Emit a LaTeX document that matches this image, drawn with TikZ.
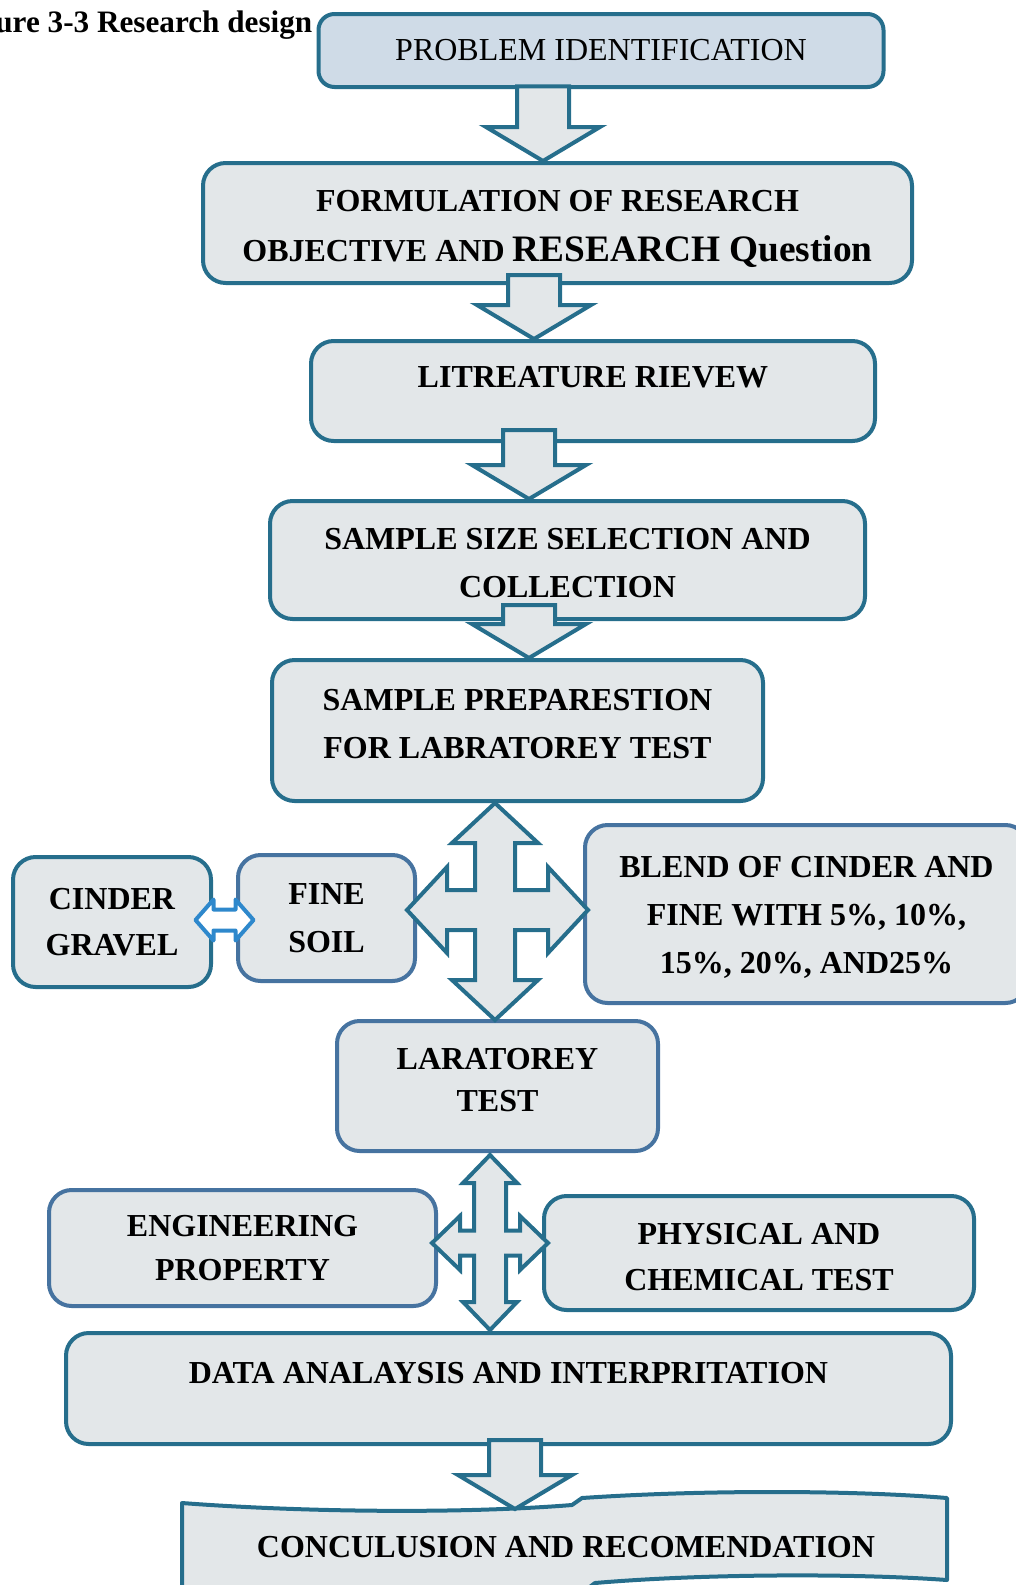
\documentclass[tikz,border=0pt]{standalone}
\usepackage{fontspec}
\setmainfont{Liberation Serif}
\usetikzlibrary{calc}

\definecolor{edgeteal}{HTML}{266E8C}
\definecolor{edgesteel}{HTML}{4673A0}
\definecolor{boxgrey}{HTML}{E3E7E9}
\definecolor{probfill}{HTML}{CFDBE7}
\definecolor{linkblue}{HTML}{2E88CC}

\tikzset{
  stepbox/.style={draw=edgeteal, line width=3pt, fill=boxgrey, rounded corners=17pt,
    align=center, inner sep=0pt, font=\fontsize{24}{36}\selectfont\bfseries},
  steelbox/.style={stepbox, draw=edgesteel},
  blockarrow/.style={draw=edgeteal, line width=3pt, fill=boxgrey, line join=miter},
  linkarrow/.style={draw=linkblue, line width=3pt, fill=white, line join=round},
  bannerline/.style={draw=edgeteal, line width=3pt, fill=boxgrey, line join=round}
}

% struts that nudge text down (top) or up (bottom) inside a box
\newcommand{\toppad}[1]{\rule{0pt}{#1}}
\newcommand{\botpad}[1]{\rule[-#1]{0pt}{0pt}}

% down block arrow: from anchor, to anchor, x (px), overlap into upper box
\newcommand{\blkdown}[4]{%
  \draw[blockarrow] let \p1=(#1), \p2=(#2) in
    ({#3*0.75pt-19.5pt},{\y1+#4}) -- ({#3*0.75pt+19.5pt},{\y1+#4})
    -- ({#3*0.75pt+19.5pt},{\y2+25.5pt}) -- ({#3*0.75pt+42.75pt},{\y2+25.5pt})
    -- ({#3*0.75pt},\y2) -- ({#3*0.75pt-42.75pt},{\y2+25.5pt})
    -- ({#3*0.75pt-19.5pt},{\y2+25.5pt}) -- cycle;}

% four way arrow: centre, up, down, left, right, vshaft, hshaft, head half, head length
\newcommand{\crossarrow}[9]{%
  \draw[blockarrow, shift={(#1)}] (0,{-#2}) -- ({#8},{-#2+#9}) -- ({#6},{-#2+#9})
    -- ({#6},{-#7}) -- ({#5-#9},{-#7}) -- ({#5-#9},{-#8}) -- ({#5},0)
    -- ({#5-#9},{#8}) -- ({#5-#9},{#7}) -- ({#6},{#7}) -- ({#6},{#3-#9})
    -- ({#8},{#3-#9}) -- (0,{#3}) -- ({-#8},{#3-#9}) -- ({-#6},{#3-#9})
    -- ({-#6},{#7}) -- ({-#4+#9},{#7}) -- ({-#4+#9},{#8}) -- ({-#4},0)
    -- ({-#4+#9},{-#8}) -- ({-#4+#9},{-#7}) -- ({-#6},{-#7})
    -- ({-#6},{-#2+#9}) -- ({-#8},{-#2+#9}) -- cycle;}

\begin{document}
\begin{tikzpicture}[x=0.75pt,y=-0.75pt]
\useasboundingbox (0,0) rectangle (1016,1585);

% caption
\node[anchor=base east, font=\fontsize{23.4}{28}\selectfont\bfseries] (caption) at (317,32) {ure 3-3 Research design};

% main column
\node[stepbox, fill=probfill, rounded corners=12pt, font=\fontsize{24}{30}\selectfont,
  minimum width=423.75pt, minimum height=54.75pt] (problem) at (601,50.5) {PROBLEM IDENTIFICATION};
\node[stepbox, font=\fontsize{24}{38}\selectfont\bfseries, minimum width=531.75pt, minimum height=90pt]
  (formulation) at (557.5,223) {\toppad{25pt}FORMULATION OF RESEARCH\\OBJECTIVE AND {\fontsize{28}{38}\selectfont RESEARCH Question}};
\node[stepbox, text depth=21pt, minimum width=423pt, minimum height=75pt] (review) at (593,391) {LITREATURE RIEVEW};
\node[stepbox, minimum width=446.25pt, minimum height=88.5pt] (sampling) at (567.5,560) {\toppad{20.4pt}SAMPLE SIZE SELECTION AND\\COLLECTION};
\node[stepbox, minimum width=368.25pt, minimum height=105.75pt] (preparation) at (517.5,730.5) {SAMPLE PREPARESTION\\FOR LABRATOREY TEST\botpad{10.5pt}};

% materials
\node[stepbox, font=\fontsize{24}{34.5}\selectfont\bfseries, minimum width=148.5pt, minimum height=97.5pt] (cinder) at (112,922) {CINDER\\GRAVEL};
\node[steelbox, minimum width=132.75pt, minimum height=94.5pt] (fine) at (326.5,918) {FINE\\SOIL};
\node[steelbox, minimum width=332.25pt, minimum height=133.5pt] (blend) at (806.5,914) {\toppad{20.4pt}BLEND OF CINDER AND\\FINE WITH 5\%, 10\%,\\15\%, 20\%, AND25\%};

% tests
\node[steelbox, font=\fontsize{24}{32}\selectfont\bfseries, minimum width=240.75pt, minimum height=97.5pt] (labtest) at (497.5,1086) {LARATOREY\\TEST\botpad{9pt}};
\node[steelbox, font=\fontsize{24}{33}\selectfont\bfseries, minimum width=290.25pt, minimum height=87pt] (engineering) at (242.5,1248) {ENGINEERING\\PROPERTY};
\node[stepbox, font=\fontsize{24}{35}\selectfont\bfseries, minimum width=322.5pt, minimum height=85.5pt] (physical) at (759,1253) {\toppad{21.9pt}PHYSICAL AND\\CHEMICAL TEST};
\node[stepbox, text depth=24pt, minimum width=663.75pt, minimum height=83.25pt] (analysis) at (508.5,1388.5) {DATA ANALAYSIS AND INTERPRITATION};

% banner at the foot
\draw[bannerline] (182,1503) .. controls (300,1512) and (460,1514) .. (572,1505) -- (582,1498)
  .. controls (700,1490) and (850,1490) .. (947,1498) -- (947,1580)
  .. controls (850,1573) and (700,1574) .. (595,1583) -- (583,1592)
  .. controls (450,1600) and (300,1600) .. (182,1592) -- cycle;
\node[font=\fontsize{24}{30}\selectfont\bfseries] (conclusion) at (566,1547) {CONCULUSION AND RECOMENDATION};
\coordinate (bannertop) at (515,1509);

% block arrows
\blkdown{problem.south}{formulation.north}{543}{2pt}
\blkdown{formulation.south}{review.north}{534}{7.5pt}
\blkdown{review.south}{sampling.north}{529}{9.75pt}
\blkdown{sampling.south}{preparation.north}{529}{12pt}
\blkdown{analysis.south}{bannertop}{515}{4.5pt}

\coordinate (hubA) at (495,910);
\crossarrow{hubA}{107}{110}{88}{93}{20}{20}{43}{40}
\coordinate (hubB) at (490,1243);
\crossarrow{hubB}{88}{87}{58}{58}{16}{12.5}{27}{28}

\draw[linkarrow, shift={($(cinder.east)!.5!(fine.west)$)}] (-29,0) -- (-11,-20.5) -- (-11,-10.5)
  -- (11,-10.5) -- (11,-20.5) -- (29,0) -- (11,20.5) -- (11,10.5) -- (-11,10.5) -- (-11,20.5) -- cycle;

\end{tikzpicture}
\end{document}
